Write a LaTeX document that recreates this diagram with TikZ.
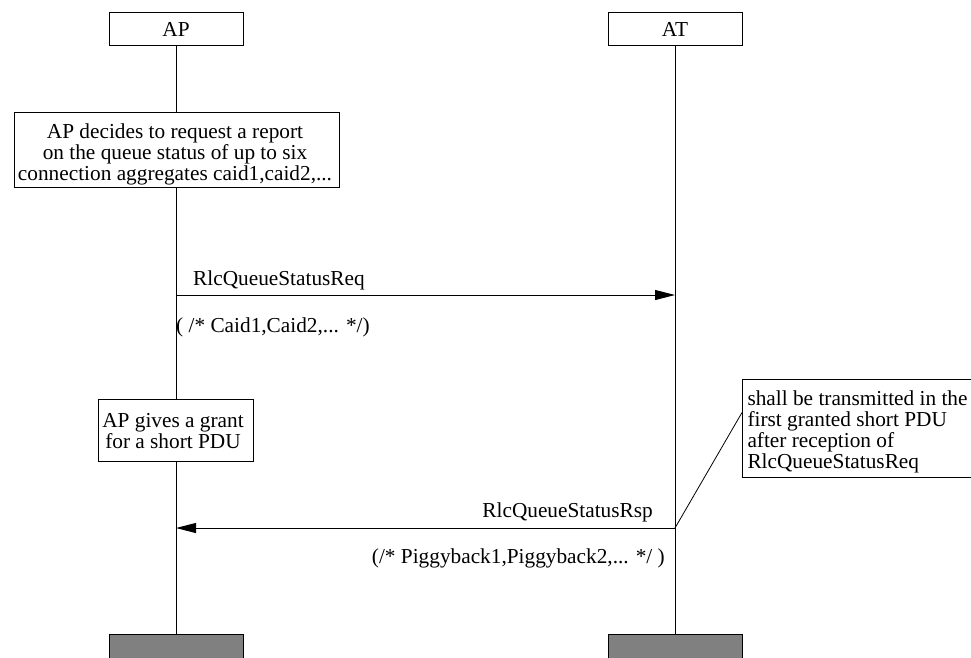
\documentclass[tikz,border=0pt]{standalone}
\usepackage{fontspec}
\setmainfont{Liberation Serif}
\usetikzlibrary{arrows.meta,calc}
\begin{document}
\begin{tikzpicture}[x=1pt,y=-1pt,
  every node/.style={font=\fontsize{21.3}{20.6}\selectfont},
  entity/.style={draw=black, line width=1pt, fill=white, minimum width=134pt,
    inner xsep=0pt, inner ysep=0pt, text height=24pt, text depth=9pt, anchor=base},
  endbar/.style={draw=black, line width=1pt, fill=black!50, minimum width=134pt,
    minimum height=40pt, anchor=north, inner sep=0pt},
  note/.style={draw=black, line width=1pt, fill=white, inner ysep=0pt, anchor=base},
  msglabel/.style={inner sep=0pt},
  lifeline/.style={line width=1pt},
  msg/.style={line width=1pt, -{Triangle[length=20pt,width=10pt]}},
  comment/.style={line width=0.8pt}
  ]
\useasboundingbox (0,0) rectangle (971,657);
\clip (0,0) rectangle (971,657);

% instances
\node[entity] (AP) at (176,36) {AP};
\node[entity] (AT) at (675,36) {AT};
\node[endbar] (APend) at (176,634) {};
\node[endbar] (ATend) at (675,634) {};

% lifelines
\draw[lifeline] (AP.south) -- (APend.north);
\draw[lifeline] (AT.south) -- (ATend.north);

% actions on the AP side
\node[note, minimum width=322pt, text height=26pt, text depth=49pt] (decide) at (177,138)
  {\begin{tabular}[t]{@{}c@{\hspace{4pt}}}AP decides to request a report\\on the queue status of up to six\\connection aggregates caid1,caid2,...\end{tabular}};
\node[note, minimum width=154pt, text height=28pt, text depth=34pt] (grant) at (176,427)
  {\begin{tabular}[t]{@{}c@{\hspace{6pt}}}AP gives a grant\\for a short PDU\end{tabular}};

% request
\coordinate (reqL) at (AP.south |- 0,295);
\coordinate (reqR) at (AT.south |- 0,295);
\draw[msg] (reqL) -- (reqR);
\node[msglabel, anchor=base west] (reqname) at (193,285) {RlcQueueStatusReq};
\node[msglabel, anchor=base west] (reqargs) at (176,332) {( /* Caid1,Caid2,... */)};

% response
\coordinate (rspR) at (AT.south |- 0,528);
\coordinate (rspL) at (AP.south |- 0,528);
\draw[msg] (rspR) -- (rspL);
\node[msglabel, anchor=base east] (rspname) at (653,517) {RlcQueueStatusRsp};
\node[msglabel, anchor=base east] (rspargs) at (665,563) {(/* Piggyback1,Piggyback2,... */ )};

% comment attached to the response
\node[note, anchor=base west, inner xsep=5pt, text height=26pt, text depth=72pt] (cond) at (742,405)
  {\begin{tabular}[t]{@{}l@{}}shall be transmitted in the\\first granted short PDU\\after reception of\\RlcQueueStatusReq\end{tabular}};
\coordinate (condpin) at ($(cond.north west)+(0,34)$);
\draw[comment] (rspR) -- (condpin);
\end{tikzpicture}
\end{document}
